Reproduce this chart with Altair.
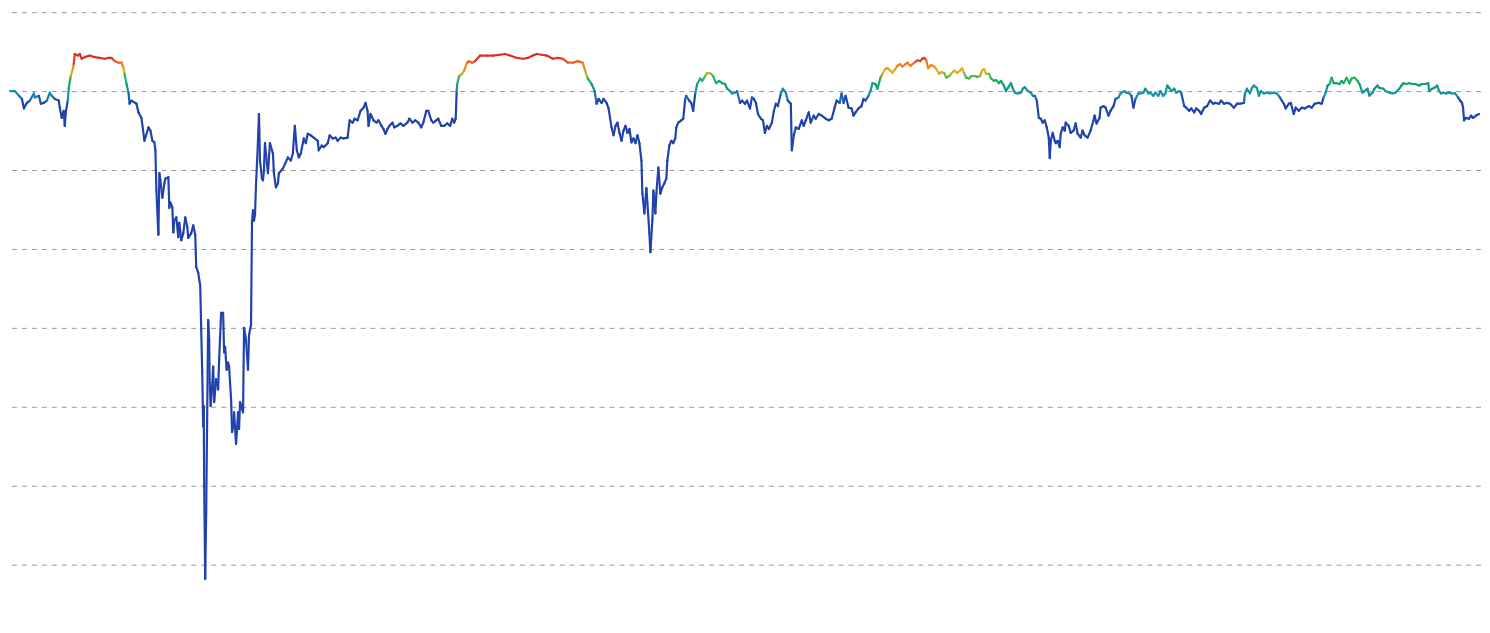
import altair as alt
import pandas as pd

periods = [
    0, 5, 9, 12, 14, 15, 17, 20, 24, 25, 29, 31, 34, 37, 40, 42, 45, 49, 50, 52, 54, 55, 56, 58, 59, 61, 63, 64, 65, 68,
    70, 72, 75, 80, 85, 90, 95, 99, 102, 105, 109, 112, 114, 115, 117, 119, 120,
    122, 127, 129, 132, 135, 139, 141, 143, 145, 146, 147, 149, 150, 151, 153, 155, 156, 159, 160, 161, 163, 164, 165, 167,
    169, 170, 172, 174, 176, 178, 179, 182, 184, 186, 187, 189, 190, 191, 192, 193, 194, 194.5, 195, 196, 197, 199, 200,
    200.5, 201.5, 203, 204, 205, 207, 209, 210, 212, 214, 215, 216, 217.5, 219, 220, 222, 223, 224, 225, 227, 229, 230,
    231, 234, 235, 237, 239, 240, 242, 243, 244, 245, 246, 247, 248, 249, 250, 251, 253, 254, 255, 256, 258, 259, 261,
    264, 265, 267, 269, 270, 274, 277, 279, 282, 284, 286, 288, 290, 292, 295, 297, 299, 302, 305, 309, 310, 313, 315,
    319, 321, 324, 327, 329, 332, 335, 339, 341, 344, 346, 349, 352, 355, 357, 359, 360, 362, 365, 368, 370, 373, 375,
    377, 379, 381, 384, 386, 389, 392, 395, 399, 401, 404, 407, 410, 413, 415, 418, 420, 423, 425, 428, 430, 433, 436,
    439, 442, 444, 446, 447.5, 448.5, 449, 451, 454, 456, 459, 461, 464, 467, 472, 479, 485, 492, 497, 502, 509, 515,
    520, 525, 529, 534, 539, 545, 550, 555, 560, 565, 570, 575, 577, 580, 584, 587, 589, 591, 594, 596, 599, 601, 604,
    606, 608, 610, 612, 614, 616, 618, 620, 622, 624, 626, 628, 630, 632, 634, 635, 637, 639, 640, 642, 643, 645, 646,
    648, 649, 651, 653, 655, 657, 659, 660, 662, 664, 666, 668, 669, 671, 674, 676, 678, 679, 682, 684, 686, 688, 690,
    693, 695, 698, 700, 704, 706, 709, 712, 715, 718, 720, 723, 725, 728, 730, 733, 735, 738, 740, 743, 745, 747, 749,
    751, 754, 756, 758, 760, 762, 765, 767, 769, 771, 774, 776, 779, 781, 784, 785, 787, 789, 792, 795, 797, 799, 802,
    804, 807, 809, 812, 815, 819, 822, 825, 828, 830, 833, 835, 837, 839, 842, 845, 847, 849, 852, 855, 857, 859, 862,
    864, 866, 869, 871, 874, 876, 879, 881, 884, 886, 889, 891, 894, 896, 899, 901, 904, 906, 909, 911, 914, 916, 918,
    920, 922, 925, 928, 930, 933, 935, 938, 940, 943, 945, 948, 951, 954, 956, 958, 960, 963, 965, 969, 971, 974, 976,
    978, 980, 983, 985, 988, 990, 993, 995, 998, 1000, 1002, 1005, 1007, 1009, 1012, 1015, 1017, 1019, 1022, 1025, 1027,
    1029, 1031, 1033, 1035, 1037, 1039, 1041, 1043, 1044, 1045, 1047, 1049, 1050, 1052, 1054, 1055, 1057, 1059, 1060,
    1063, 1065, 1068, 1070, 1072, 1075, 1077, 1079, 1082, 1085, 1088, 1089, 1091, 1094, 1095, 1098, 1100, 1103, 1105,
    1108, 1110, 1113, 1115, 1119, 1121, 1124, 1126, 1128, 1130, 1133, 1135, 1138, 1140, 1143, 1145, 1148, 1150, 1153,
    1155, 1158, 1160, 1162, 1164, 1166, 1169, 1171, 1174, 1176, 1179, 1181, 1184, 1186, 1189, 1191, 1194, 1196, 1199,
    1202, 1205, 1208, 1210, 1214, 1216, 1219, 1222, 1225, 1229, 1232, 1235, 1239, 1240, 1242, 1245, 1247, 1249, 1252,
    1254, 1256, 1259, 1262, 1265, 1269, 1272, 1275, 1277, 1279, 1281, 1284, 1286, 1289, 1291, 1294, 1297, 1300, 1304,
    1307, 1310, 1314, 1317, 1319, 1321, 1323, 1325, 1327, 1329, 1332, 1335, 1337, 1339, 1342, 1345, 1347, 1350, 1353,
    1355, 1358, 1360, 1363, 1365, 1368, 1370, 1373, 1375, 1379, 1381, 1385, 1388, 1391, 1395, 1397, 1399, 1402, 1405,
    1408, 1411, 1415, 1418, 1421, 1424, 1425, 1428, 1430, 1433, 1435, 1437, 1439, 1442, 1445, 1448, 1451, 1454, 1456,
    1458, 1459, 1460, 1462, 1465, 1467, 1469, 1472, 1475,
]

values = [
    130.0, 130.0, 129.4, 129.0, 127.8, 128.1, 128.5, 128.8, 129.7, 129.2, 129.4, 128.4, 128.5, 128.8, 129.8, 129.4, 129.0,
    128.8, 127.9, 126.6, 127.5, 125.6, 127.3, 128.8, 130.4, 131.9, 132.8, 133.4, 134.7, 134.5,
    134.7, 134.1, 134.3, 134.5, 134.3, 134.2, 134.1, 134.2, 134.2, 133.8, 133.6, 133.6, 132.9, 132.2, 130.9, 129.8, 128.4,
    128.8, 128.4, 127.3, 126.6, 123.7, 125.4, 125.0, 123.7, 123.5, 122.5, 117.4, 111.8, 119.6, 118.7, 116.5, 118.3, 118.9,
    119.1, 115.2, 115.9, 115.3, 112.1, 113.6, 114.0,
    111.5, 113.3, 111.1, 112.0, 114.0, 112.8, 111.4, 112.0, 113.0, 111.8, 107.7, 107.0, 106.1, 105.4, 99.8, 94.4, 87.5,
    90.1, 80.0, 68.2, 76.7, 101.0, 98.5,
    93.1, 90.1, 92.6, 95.1, 90.6, 93.5, 92.2, 96.0, 101.9, 101.9, 96.9, 97.6, 94.7, 95.6, 95.1, 90.9, 86.8, 87.5, 89.3,
    85.3, 89.3, 87.2,
    90.6, 89.3, 100.0, 98.5, 94.7, 99.1, 100.4, 113.4, 114.9, 113.6, 114.3, 118.1, 120.8, 123.7, 127.1, 121.2, 118.9,
    118.7, 120.0, 123.4, 120.8, 119.6, 123.4,
    122.1, 119.6, 117.8, 118.3, 119.6, 120.2, 121.0, 121.6, 121.2, 122.1, 125.6, 122.5, 121.6, 122.1, 124.0, 123.4, 124.6,
    124.4, 124.1, 123.7, 122.5, 123.1, 122.9,
    123.4, 124.4, 124.0, 124.1, 123.7, 124.1, 124.0, 124.1, 126.3, 126.0, 126.5, 126.3, 127.5, 127.9, 128.5, 127.5, 125.6,
    127.1, 126.3, 126.0, 126.3, 125.6, 125.2,
    124.6, 125.2, 125.6, 126.0, 125.4, 125.6, 125.9, 125.6, 126.0, 126.5, 126.0, 126.3, 126.0, 125.4, 126.0, 127.5, 127.5,
    126.3, 126.0, 126.3, 126.5, 125.6, 125.6,
    125.9, 125.6, 126.5, 126.0, 126.5, 130.0, 130.9, 131.9, 132.2, 132.6, 133.6, 133.8, 133.6, 133.8, 134.5, 134.5, 134.5,
    134.6, 134.7, 134.5, 134.2, 134.1,
    134.2, 134.5, 134.7, 134.6, 134.5, 134.1, 134.2, 134.1, 133.6, 133.6, 133.8, 133.6, 132.8, 131.6, 130.9, 130.0, 128.4,
    129.0, 128.5, 129.0, 128.5, 127.8, 125.4,
    124.4, 125.6, 126.0, 124.7, 123.7, 125.0, 125.6, 124.7, 125.2, 123.5, 124.0, 123.4, 124.4, 123.4, 121.2, 117.0, 114.5,
    117.7, 115.8, 112.0, 109.6, 113.6, 117.4,
    114.5, 117.0, 120.3, 117.0, 117.8, 118.3, 118.9, 121.2, 123.1, 123.7, 123.4, 124.0, 125.4, 126.0, 126.3, 126.5, 129.0,
    129.4, 128.8, 128.5, 127.5, 129.7, 130.9,
    131.6, 131.3, 131.9, 132.3, 132.2, 131.9, 131.0, 131.3, 131.0, 130.9, 130.3, 130.0, 129.7, 129.8, 130.0, 128.5, 128.8,
    128.4, 128.8, 127.8, 129.2, 129.0, 128.5,
    127.1, 126.5, 126.3, 124.7, 125.6, 125.2, 126.0, 127.5, 128.4, 128.1, 129.7, 130.3, 129.8, 128.8, 128.4, 122.5, 124.4,
    125.4, 125.2, 126.3, 125.6, 126.3, 127.3,
    126.0, 126.9, 126.5, 127.1, 126.9, 126.5, 126.3, 126.5, 127.9, 128.8, 128.5, 129.7, 128.5, 129.4, 127.9, 127.8, 126.9,
    127.3, 127.8, 128.1, 129.0, 128.8, 129.4,
    130.0, 131.0, 130.9, 130.3, 131.7, 132.2, 132.8, 132.9, 132.6, 132.3, 132.8, 133.2, 133.4, 133.1, 133.4, 133.6, 133.2,
    133.4, 133.7, 133.9, 133.8, 134.1, 134.2,
    133.9, 132.9, 133.3, 133.1, 132.8, 132.2, 132.4, 132.3, 131.7, 131.9, 132.2, 132.6, 132.3, 132.6, 132.9, 132.3, 131.7,
    131.6, 131.9, 131.9, 131.8, 131.9, 132.6,
    132.8, 132.2, 132.2, 131.6, 131.3, 131.4, 131.0, 131.3, 130.7, 130.0, 130.4, 131.0, 130.3, 129.8, 129.7, 129.8, 130.3,
    130.5, 130.0, 129.8, 129.4,
    129.4, 128.8, 126.6, 126.5, 126.0, 126.3, 125.4, 124.1, 121.5, 123.7, 124.7, 123.7, 123.4, 123.7, 122.9, 124.6, 125.4,
    125.0, 126.0,
    125.6, 124.7, 125.0, 125.9, 124.6, 124.1, 125.0, 124.4, 124.1, 125.0, 126.3, 126.9, 125.9, 126.6, 127.9, 128.1, 127.9,
    126.9, 127.5,
    128.1, 129.0, 129.2, 129.7, 130.0, 129.8, 129.7, 129.4, 127.9, 129.0, 129.7, 129.7, 129.8, 130.3, 129.7, 129.8, 129.4,
    129.8, 129.4,
    130.0, 129.4, 129.7, 130.7, 130.4, 130.0, 130.3, 129.8, 130.0, 129.8, 128.1, 127.9, 127.5, 127.8, 127.3, 127.8, 127.5,
    127.1, 127.9,
    128.1, 128.8, 128.4, 128.5, 128.4, 128.8, 128.4, 128.5, 128.4, 127.9, 128.4, 128.4, 128.5, 129.7, 130.3, 129.7, 130.4,
    130.7, 130.4,
    129.4, 130.0, 129.7, 129.8, 129.7, 129.8, 129.7, 129.2, 128.8, 128.4, 127.8, 128.4, 128.5, 127.1, 127.9, 127.5, 127.9,
    127.8, 128.1,
    127.9, 128.4, 128.5, 128.4, 129.2, 129.8, 130.7, 130.9, 131.7, 131.0, 131.0, 130.9, 131.3, 131.0, 131.7, 131.0, 131.6,
    131.7, 131.3,
    130.9, 129.8, 130.0, 130.3, 129.4, 129.8, 130.3, 130.7, 130.4, 130.3, 130.0, 129.8, 129.7, 129.8, 130.3, 130.7, 131.0,
    130.9, 131.0,
    130.9, 130.9, 130.7, 130.9, 130.9, 131.0, 130.0, 130.3, 130.4, 130.7, 130.0, 129.7, 129.8, 129.7, 129.8, 129.7, 129.7,
    129.2, 128.8,
    128.5, 127.9, 126.3, 126.6, 126.5, 126.9, 126.6, 126.9, 127.1,
]

assert len(periods) == len(values), (len(periods), len(values))

grid_values = [70, 80, 90, 100, 110, 120, 130, 140]
color_stops = [128.8, 129.5, 130.8, 131.6, 132.5, 133.4, 134.2]
color_range = ["#2142ad", "#1791b5", "#0f9a74", "#22bb5e", "#ebb014", "#f0781f", "#e02c26"]

df = pd.DataFrame({"t": periods, "v": values})
df["t2"] = df["t"].shift(-1)
df["v2"] = df["v"].shift(-1)
df = df.dropna()
df["mid"] = (df["v"] + df["v2"]) / 2

xs = alt.Scale(domain=[0, 1477], nice=False, zero=False)
ys = alt.Scale(domain=[68.2, 140], nice=False, zero=False)

grid = alt.Chart(pd.DataFrame({"g": grid_values})).mark_rule(
    color="#999999", strokeDash=[5, 5], strokeWidth=1, yOffset=0.5
).encode(y=alt.Y("g:Q", scale=ys, axis=None))

line = alt.Chart(df).mark_rule(strokeWidth=2.2, strokeCap="round").encode(
    x=alt.X("t:Q", scale=xs, axis=None),
    x2="t2:Q",
    y=alt.Y("v:Q", scale=ys, axis=None),
    y2="v2:Q",
    color=alt.Color(
        "mid:Q",
        scale=alt.Scale(domain=color_stops, range=color_range, clamp=True, interpolate="rgb"),
        legend=None,
    ),
)

chart = alt.layer(grid, line).properties(
    width=1477,
    height=569,
    padding={"left": 0, "top": 3, "right": 0, "bottom": 5},
).configure_view(stroke=None)

chart.save("out.html", embed_options={"renderer": "svg", "actions": False})
